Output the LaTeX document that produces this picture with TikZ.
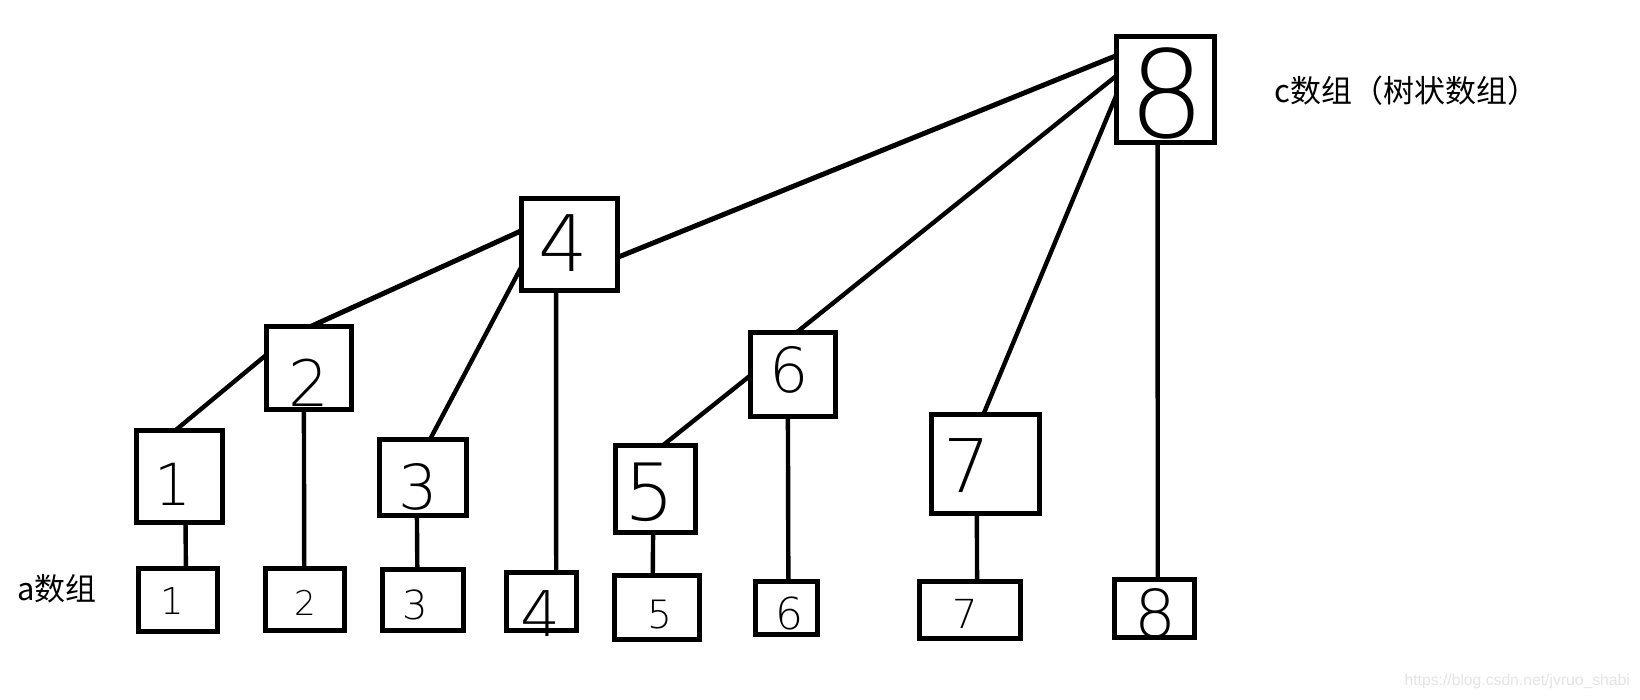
\documentclass[tikz,border=0pt]{standalone}
\usepackage{fontspec}
\newfontfamily\cjk{Noto Sans CJK SC}
\IfFontExistsTF{DejaVu Sans ExtraLight}{\newfontfamily\digfont{DejaVu Sans ExtraLight}}{\newfontfamily\digfont{Liberation Sans}}
\newfontfamily\wmfont{Liberation Sans}
\usetikzlibrary{calc}
\definecolor{wm}{RGB}{228,228,228}
\newcommand\dg[4]{\node[dig] (#1) at (#2) {\fontsize{#3}{#3}\selectfont #4};}
\newcommand\bx[4]{\node[boxnode,minimum width=#3pt,minimum height=#4pt] (#1) at (#2) {};}
\begin{document}
\begin{tikzpicture}[x=1pt,y=-1pt,
  boxnode/.style={draw=black,line width=5pt,inner sep=0pt,outer sep=0pt},
  link/.style={line width=4.4pt,line cap=round},
  thicklink/.style={line width=5pt,line cap=round},
  dig/.style={inner sep=0pt,font=\digfont},
  lbl/.style={inner sep=0pt,anchor=base west,font=\cjk\fontsize{31}{31}\selectfont},
  wmark/.style={inner sep=0pt,anchor=base east,text=wm,font=\wmfont\fontsize{15.7}{15.7}\selectfont}]
\useasboundingbox[fill=white] (0,0) rectangle (1640,699);

% boxes (tree array c)
\bx{c8}{1165.5,89.5}{98}{106}
\bx{c4}{569.5,244.5}{96}{92}
\bx{c2}{309,368}{85}{83}
\bx{c1}{179.5,476.5}{86}{92}
\bx{c3}{423,477.5}{87}{76}
\bx{c6}{793,374.5}{85}{84}
\bx{c5}{655.5,489}{80}{87}
\bx{c7}{985.5,464}{108}{99}
% boxes (array a)
\bx{a1}{178,600}{79}{63}
\bx{a2}{305,599.5}{79}{62}
\bx{a3}{423,600}{81}{61}
\bx{a4}{541.5,601.5}{70}{58}
\bx{a5}{657,607.5}{85}{64}
\bx{a6}{786.5,608}{62}{53}
\bx{a7}{970,610}{101}{57}
\bx{a8}{1154.5,608.5}{80}{58}

% digits
\dg{d8}{1167,93}{121}{8}
\dg{d4}{563,243}{78}{4}
\dg{d2}{309,383}{64}{2}
\dg{d1}{173,484}{58}{1}
\dg{d3}{418,487}{62}{3}
\dg{d5}{650,492}{79}{5}
\dg{d6}{789,370}{62}{6}
\dg{d7}{967,466}{74}{7}
\dg{e1}{172,601}{37}{1}
\dg{e2}{305,603}{34}{2}
\dg{e3}{415,605}{40}{3}
\dg{e4}{541,614}{63}{4}
\dg{e5}{660,615}{39}{5}
\dg{e6}{789,613}{44}{6}
\dg{e7}{965,614}{40}{7}
\dg{e8}{1155,613}{66}{8}

% connectors
\draw[thicklink] ($(c8.north west)!0.18!(c8.south west)$) -- ($(c4.north east)!0.64!(c4.south east)$);
\draw[link] ($(c8.north west)!0.37!(c8.south west)$) -- ($(c6.north west)!0.54!(c6.north east)$);
\draw[link] ($(c8.north west)!0.55!(c8.south west)$) -- ($(c7.north west)!0.48!(c7.north east)$);
\draw[link] ($(c8.south west)!0.42!(c8.south east)$) -- ($(a8.north west)!0.54!(a8.north east)$);
\draw[thicklink] ($(c4.north west)!0.35!(c4.south west)$) -- ($(c2.north west)!0.52!(c2.north east)$);
\draw[link] ($(c4.north west)!0.74!(c4.south west)$) -- ($(c3.north west)!0.58!(c3.north east)$);
\draw[link] ($(c4.south west)!0.36!(c4.south east)$) -- ($(a4.north west)!0.71!(a4.north east)$);
\draw[link] ($(c2.north west)!0.34!(c2.south west)$) -- ($(c1.north west)!0.45!(c1.north east)$);
\draw[link] ($(c2.south west)!0.44!(c2.south east)$) -- ($(a2.north west)!0.49!(a2.north east)$);
\draw[link] ($(c1.south west)!0.57!(c1.south east)$) -- ($(a1.north west)!0.60!(a1.north east)$);
\draw[link] ($(c3.south west)!0.43!(c3.south east)$) -- ($(a3.north west)!0.43!(a3.north east)$);
\draw[link] ($(c6.north west)!0.51!(c6.south west)$) -- ($(c5.north west)!0.59!(c5.north east)$);
\draw[link] ($(c6.south west)!0.44!(c6.south east)$) -- ($(a6.north west)!0.53!(a6.north east)$);
\draw[link] ($(c5.south west)!0.47!(c5.south east)$) -- ($(a5.north west)!0.45!(a5.north east)$);
\draw[link] ($(c7.south west)!0.42!(c7.south east)$) -- ($(a7.north west)!0.57!(a7.north east)$);

% labels
\node[lbl] (clabel) at (1274,102) {c数组（树状数组）};
\node[lbl] (alabel) at (17,600) {a数组};
\node[wmark] (wm) at (1630,685) {https://blog.csdn.net/jvruo\_shabi};
\end{tikzpicture}
\end{document}
